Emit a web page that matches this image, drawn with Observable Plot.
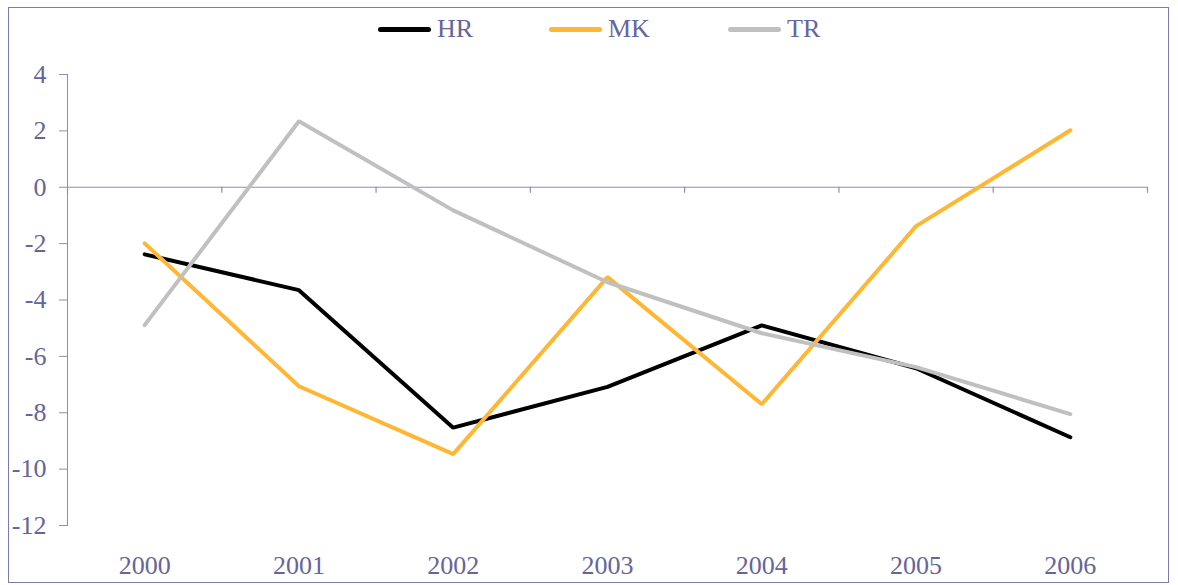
<!DOCTYPE html>
<html>
<head>
<meta charset="utf-8">
<script src="https://cdn.jsdelivr.net/npm/d3@7"></script>
<script src="https://cdn.jsdelivr.net/npm/@observablehq/plot@0.6"></script>
<style>
  html, body { margin: 0; padding: 0; background: #fff; }
  #wrap { position: relative; width: 1178px; height: 585px; font-family: "Liberation Serif", "Times New Roman", serif; }
  #frame { position: absolute; left: 8px; top: 7px; width: 1161px; height: 576px; border: 1.5px solid #7a7aae; box-sizing: border-box; pointer-events: none; }
  #chart { position: absolute; left: 0; top: 0; }
  #legend { position: absolute; left: 0; top: 0; width: 1178px; height: 60px; }
  .item { position: absolute; top: 14px; display: flex; align-items: center; font-size: 26px; color: #65659c; }
  .swatch { width: 53px; height: 5px; border-radius: 3px; margin-right: 6px; }
</style>
</head>
<body>
<div id="wrap">
  <div id="chart"></div>
  <div id="legend"></div>
  <div id="frame"></div>
</div>
<script>
const years = [2000, 2001, 2002, 2003, 2004, 2005, 2006];
const seriesNames = ["HR", "MK", "TR"];
const seriesColors = ["#000000", "#ffb733", "#c0c0c0"];
const HR = [-2.38, -3.65, -8.53, -7.08, -4.9, -6.42, -8.87];
const MK = [-1.99, -7.06, -9.47, -3.19, -7.7, -1.38, 2.02];
const TR = [-4.89, 2.34, -0.82, -3.37, -5.18, -6.38, -8.05];
const yTicks = [4, 2, 0, -2, -4, -6, -8, -10, -12];

const seriesValues = {HR, MK, TR};
const rows = [];
for (const name of seriesNames) {
  seriesValues[name].forEach((v, i) => rows.push({series: name, year: years[i], value: v}));
}
const bounds = [years[0] - 0.5, ...years.map(y => y + 0.5)];

const textColor = "#65659c";
const axisColor = "#8c8cbc";

const chart = Plot.plot({
  width: 1178,
  height: 585,
  marginLeft: 67,
  marginRight: 31,
  marginTop: 74,
  marginBottom: 60,
  style: {fontFamily: "'Liberation Serif', 'Times New Roman', serif", fontSize: "26px", background: "transparent", color: textColor},
  x: {type: "linear", domain: [bounds[0], bounds[bounds.length - 1]]},
  y: {domain: [-12, 4]},
  color: {domain: seriesNames, range: seriesColors},
  marks: [
    Plot.axisY({ticks: yTicks, tickSize: 8, tickPadding: 13, tickFormat: d => String(d), label: null, stroke: axisColor, fill: textColor}),
    Plot.frame({anchor: "left", stroke: axisColor}),
    Plot.axisX({ticks: years, tickSize: 0, tickPadding: 30, tickFormat: d => String(d), label: null, fill: textColor}),
    Plot.ruleY([0], {stroke: axisColor, strokeWidth: 1.2}),
    Plot.ruleX(bounds, {x: d => d, y1: 0, y2: 0, insetBottom: -6, stroke: axisColor, strokeWidth: 1.2}),
    Plot.line(rows, {x: "year", y: "value", z: "series", stroke: "series", strokeWidth: 4, strokeLinejoin: "miter", strokeLinecap: "round"})
  ]
});
document.getElementById("chart").appendChild(chart);

const legend = document.getElementById("legend");
const legendX = [378, 549, 728];
seriesNames.forEach((name, i) => {
  const item = document.createElement("div");
  item.className = "item";
  item.style.left = legendX[i] + "px";
  const sw = document.createElement("div");
  sw.className = "swatch";
  sw.style.background = seriesColors[i];
  const lab = document.createElement("span");
  lab.textContent = name;
  item.appendChild(sw);
  item.appendChild(lab);
  legend.appendChild(item);
});
</script>
</body>
</html>
